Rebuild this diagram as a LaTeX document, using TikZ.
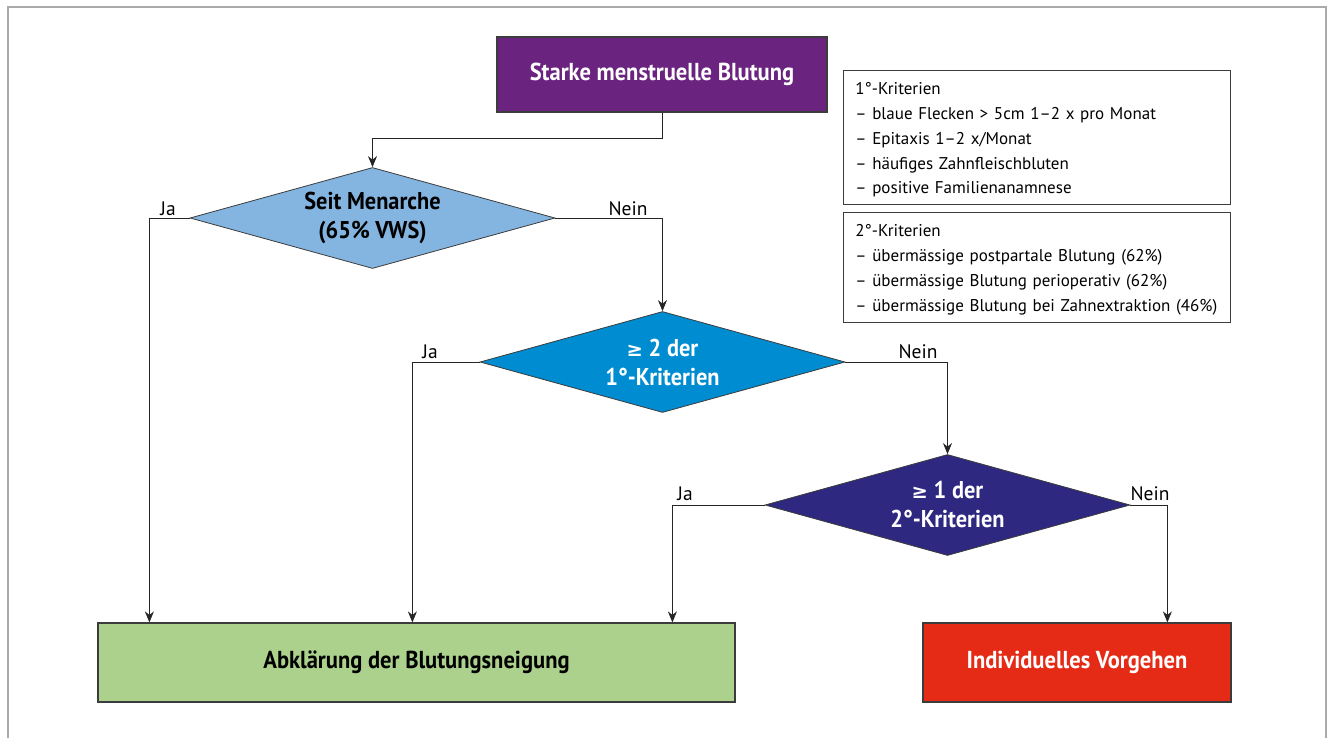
\documentclass[tikz,border=0pt]{standalone}
\usepackage{fontspec}
\setmainfont{PT Sans}
\newfontfamily\condf[FakeStretch=0.92]{PT Sans}
\newfontfamily\symf{DejaVu Sans}
\usetikzlibrary{shapes.geometric,arrows.meta,calc}
\definecolor{cpurple}{RGB}{106,36,128}
\definecolor{clblue}{RGB}{132,181,225}
\definecolor{cmblue}{RGB}{0,140,208}
\definecolor{cnavy}{RGB}{46,40,128}
\definecolor{cgreen}{RGB}{172,209,140}
\definecolor{cred}{RGB}{229,42,22}
\definecolor{cframe}{RGB}{170,170,170}
\definecolor{cedge}{RGB}{60,60,60}
\begin{document}
\begin{tikzpicture}[x=1pt,y=-1pt,
  boxstyle/.style={draw=cedge,line width=1.2pt,inner sep=0pt,font=\condf\fontsize{24.5}{28}\selectfont\bfseries},
  dia/.style={diamond,draw=cedge,line width=0.8pt,inner sep=0pt,aspect=3.61,minimum width=365pt,minimum height=101pt,align=center,font=\condf\fontsize{24.3}{29}\selectfont\bfseries},
  crit/.style={draw=cedge,line width=0.8pt,anchor=north west,inner sep=0pt,text width=387pt,minimum height=#1,font=\fontsize{17}{24.8}\selectfont},
  lab/.style={font=\fontsize{19.5}{22}\selectfont,anchor=base},
  arr/.style={draw=black!85,line width=0.8pt,-{Stealth[length=11pt,width=9pt]}},
  ln/.style={draw=black!85,line width=0.8pt}]
\useasboundingbox (0,0) rectangle (1328,738);
\draw[cframe,line width=2pt] (7.5,745) -- (7.5,7.5) -- (1326,7.5) -- (1326,745);
% boxes
\node[boxstyle,fill=cpurple,text=white,minimum width=330pt,minimum height=75pt] (top) at (662,74.5) {Starke menstruelle Blutung};
\node[boxstyle,fill=cgreen,text=black,minimum width=637pt,minimum height=79pt] (green) at (416.5,662.5) {Abklärung der Blutungsneigung};
\node[boxstyle,fill=cred,text=white,minimum width=308pt,minimum height=79pt] (red) at (1077,662.5) {Individuelles Vorgehen};
% diamonds
\node[dia,fill=clblue,text=black] (d1) at (372.5,218) {\raisebox{-4pt}{Seit Menarche}\\\raisebox{-4pt}{(65\% VWS)}};
\node[dia,fill=cmblue,text=white] (d2) at (662.5,362) {{\symf\fontsize{19.5}{20}\selectfont ≥} 2 der\\1°-Kriterien};
\node[dia,fill=cnavy,text=white] (d3) at (947.5,505) {{\symf\fontsize{19.5}{20}\selectfont ≥} 1 der\\2°-Kriterien};
% criteria
\node[crit=134pt] (c1) at (843,70) {\hspace*{12pt}\parbox[t]{370pt}{\vspace{5pt}1°-Kriterien\\
– blaue Flecken > 5cm 1–2 x pro Monat\\
– Epitaxis 1–2 x/Monat\\
– häufiges Zahnfleischbluten\\
– positive Familienanamnese}};
\node[crit=110pt] (c2) at (843,212) {\hspace*{12pt}\parbox[t]{370pt}{\vspace{5pt}2°-Kriterien\\
– übermässige postpartale Blutung (62\%)\\
– übermässige Blutung perioperativ (62\%)\\
– übermässige Blutung bei Zahnextraktion (46\%)}};
% connectors
\coordinate (g1) at ($(green.north west)+(52,0)$);
\coordinate (g2) at ($(green.north west)+(315,0)$);
\coordinate (g3) at ($(green.north west)+(575,0)$);
\coordinate (r1) at ($(red.north west)+(245,0)$);
\draw[arr] (top.south) -- ++(0,26) -| (d1.north);
\draw[arr] (d1.west) -| (g1);
\draw[arr] (d1.east) -| (d2.north);
\draw[arr] (d2.west) -| (g2);
\draw[arr] (d2.east) -| (d3.north);
\draw[arr] (d3.west) -| (g3);
\draw[arr] (d3.east) -| (r1);
% labels
\node[lab] (l1) at (168,215) {Ja};
\node[lab] (l2) at (628,215) {Nein};
\node[lab] (l3) at (430,358) {Ja};
\node[lab] (l4) at (918,358) {Nein};
\node[lab] (l5) at (685,500) {Ja};
\node[lab] (l6) at (1150,500) {Nein};
\end{tikzpicture}
\end{document}
